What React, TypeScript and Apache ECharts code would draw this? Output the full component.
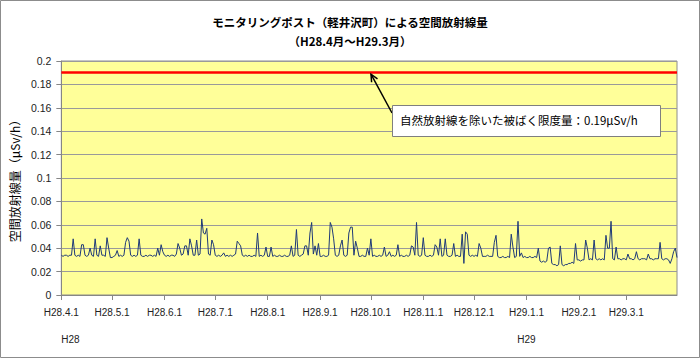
import React, { useEffect, useRef } from "react";
import * as echarts from "echarts";

const TITLE_LINE1 = "モニタリングポスト（軽井沢町）による空間放射線量";
const TITLE_LINE2 = "（H28.4月～H29.3月）";
const Y_NAME = "空間放射線量（μSv/h）";
const NOTE = "自然放射線を除いた被ばく限度量：0.19μSv/h";
const LIMIT = 0.19;
const START = { year: 2016, month: 4, day: 1 };
const DAYS = 365;

// daily air dose rate (μSv/h), 2016-04-01 .. 2017-03-31
const doseRate: number[] = [
  0.034,0.033,0.034,0.034,0.033,0.034,0.034,0.048,0.034,0.033,
  0.034,0.033,0.043,0.043,0.034,0.033,0.034,0.040,0.034,0.033,
  0.048,0.034,0.033,0.042,0.034,0.034,0.033,0.049,0.040,0.032,
  0.032,0.033,0.034,0.038,0.033,0.034,0.033,0.034,0.045,0.049,
  0.046,0.034,0.033,0.034,0.033,0.034,0.048,0.034,0.033,0.033,
  0.034,0.033,0.034,0.034,0.033,0.034,0.033,0.040,0.034,0.043,
  0.037,0.034,0.033,0.034,0.033,0.034,0.034,0.033,0.035,0.044,
  0.040,0.034,0.035,0.042,0.042,0.034,0.048,0.042,0.034,0.034,
  0.047,0.034,0.035,0.065,0.053,0.052,0.057,0.035,0.034,0.047,
  0.043,0.034,0.033,0.034,0.033,0.034,0.036,0.033,0.034,0.033,
  0.034,0.033,0.034,0.035,0.046,0.044,0.042,0.034,0.033,0.034,
  0.033,0.034,0.033,0.033,0.034,0.033,0.053,0.033,0.034,0.033,
  0.034,0.041,0.033,0.033,0.041,0.033,0.034,0.033,0.033,0.034,
  0.033,0.033,0.034,0.033,0.033,0.034,0.042,0.033,0.034,0.056,
  0.034,0.033,0.034,0.035,0.042,0.042,0.034,0.053,0.062,0.035,
  0.042,0.034,0.044,0.033,0.033,0.034,0.033,0.033,0.034,0.062,
  0.058,0.048,0.034,0.033,0.034,0.042,0.047,0.034,0.033,0.034,
  0.053,0.058,0.058,0.034,0.046,0.040,0.033,0.033,0.034,0.033,
  0.033,0.040,0.034,0.048,0.033,0.034,0.033,0.033,0.034,0.033,
  0.034,0.041,0.033,0.034,0.037,0.033,0.034,0.033,0.034,0.043,
  0.033,0.034,0.033,0.033,0.034,0.033,0.034,0.042,0.041,0.034,
  0.062,0.034,0.033,0.034,0.049,0.034,0.033,0.033,0.034,0.033,
  0.034,0.043,0.041,0.034,0.048,0.033,0.034,0.048,0.034,0.033,
  0.033,0.034,0.044,0.033,0.034,0.033,0.033,0.052,0.027,0.054,
  0.052,0.034,0.033,0.034,0.033,0.034,0.033,0.044,0.040,0.033,
  0.033,0.033,0.034,0.033,0.033,0.033,0.045,0.051,0.033,0.032,
  0.032,0.033,0.032,0.032,0.033,0.032,0.052,0.041,0.032,0.033,
  0.063,0.033,0.036,0.032,0.033,0.032,0.032,0.033,0.032,0.032,
  0.033,0.032,0.040,0.029,0.028,0.029,0.028,0.029,0.040,0.041,
  0.027,0.026,0.026,0.025,0.026,0.042,0.026,0.025,0.026,0.026,
  0.027,0.027,0.028,0.027,0.044,0.030,0.030,0.029,0.030,0.030,
  0.047,0.040,0.030,0.031,0.030,0.047,0.031,0.030,0.031,0.030,
  0.031,0.030,0.051,0.040,0.040,0.063,0.031,0.030,0.041,0.031,
  0.031,0.030,0.031,0.031,0.030,0.035,0.031,0.031,0.030,0.031,
  0.037,0.031,0.030,0.031,0.031,0.031,0.030,0.035,0.031,0.031,
  0.030,0.031,0.031,0.031,0.045,0.031,0.030,0.031,0.031,0.030,
  0.027,0.031,0.037,0.040,0.032,
];

// categories: dates written in Heisei notation, e.g. "H28.4.1"
const dateLabels: string[] = [];
for (let i = 0; i < DAYS; i++) {
  const d = new Date(Date.UTC(START.year, START.month - 1, START.day + i));
  dateLabels.push(`H${d.getUTCFullYear() - 1988}.${d.getUTCMonth() + 1}.${d.getUTCDate()}`);
}

const isMonthStart = (v: string) => v.split(".")[2] === "1";
const isYearStart = (idx: number, v: string) => idx === 0 || v.endsWith(".1.1");

export default function App() {
  const ref = useRef<HTMLDivElement>(null);
  useEffect(() => {
    if (!ref.current) return;
    const chart = echarts.init(ref.current, null, { renderer: "svg" });
    const font = "'Liberation Sans', 'Noto Sans CJK JP', sans-serif";
    const jp = "'Noto Sans CJK JP', sans-serif";
    chart.setOption({
      animation: false,
      backgroundColor: "#ffffff",
      title: {
        text: TITLE_LINE1,
        subtext: TITLE_LINE2,
        left: "center",
        top: 11,
        itemGap: 8,
        textStyle: { fontFamily: jp, fontSize: 11.5, fontWeight: "bold", color: "#000" },
        subtextStyle: { fontFamily: jp, fontSize: 11.5, fontWeight: "bold", color: "#000" },
      },
      grid: {
        left: 57,
        right: 23,
        top: 61,
        bottom: 63,
        show: true,
        backgroundColor: "#FFFF99",
        borderColor: "#8c8c8c",
        borderWidth: 1,
      },
      xAxis: [
        {
          type: "category",
          data: dateLabels,
          boundaryGap: false,
          axisLine: { lineStyle: { color: "#868686" } },
          axisTick: { show: true, length: 5, interval: (i: number, v: string) => isMonthStart(v), lineStyle: { color: "#868686" } },
          axisLabel: {
            interval: (i: number, v: string) => isMonthStart(v),
            margin: 12,
            fontFamily: font,
            fontSize: 10,
            color: "#222",
          },
          splitLine: { show: false },
        },
        {
          type: "category",
          data: dateLabels,
          boundaryGap: false,
          position: "bottom",
          offset: 28,
          axisLine: { show: false },
          axisTick: { show: false },
          axisLabel: {
            interval: (i: number, v: string) => isYearStart(i, v),
            formatter: (v: string) => v.split(".")[0],
            alignMinLabel: "left",
            margin: 11,
            fontFamily: font,
            fontSize: 10,
            color: "#222",
          },
          splitLine: { show: false },
        },
      ],
      yAxis: {
        type: "value",
        min: 0,
        max: 0.2,
        interval: 0.02,
        name: Y_NAME,
        nameLocation: "middle",
        nameGap: 40,
        nameRotate: 90,
        nameTextStyle: { fontFamily: jp, fontSize: 12, color: "#000" },
        axisLine: { show: true, lineStyle: { color: "#868686" } },
        axisTick: { show: true, length: 5, lineStyle: { color: "#868686" } },
        axisLabel: {
          margin: 10,
          fontFamily: font,
          fontSize: 10.5,
          color: "#222",
          formatter: (v: number) => String(+v.toFixed(2)),
        },
        splitLine: { show: true, lineStyle: { color: "#9a9a9a", width: 1 } },
      },
      series: [
        {
          type: "line",
          name: "空間放射線量",
          data: doseRate,
          xAxisIndex: 0,
          showSymbol: false,
          symbol: "none",
          lineStyle: { color: "#1F3A78", width: 1 },
          markLine: {
            silent: true,
            symbol: "none",
            label: { show: false },
            lineStyle: { color: "#FF0000", width: 2.5, type: "solid" },
            data: [{ yAxis: LIMIT }],
          },
        },
      ],
    });

    const tipY = chart.convertToPixel({ yAxisIndex: 0 }, LIMIT) as number;
    const tipX = 371;
    const tailX = 392;
    const tailY = 113;
    chart.setOption({
      graphic: [
        {
          type: "rect",
          shape: { x: 0.5, y: 0.5, width: 699, height: 357 },
          style: { fill: "none", stroke: "#8c8c8c", lineWidth: 1 },
          silent: true,
        },
        {
          type: "line",
          shape: { x1: tailX, y1: tailY, x2: tipX, y2: tipY + 1.5 },
          style: { stroke: "#000", lineWidth: 1.5 },
          z: 10,
        },
        {
          type: "polyline",
          shape: { points: [[tipX + 0.6, tipY + 9.5], [tipX, tipY + 1.5], [tipX + 6.5, tipY + 6.2]] },
          style: { stroke: "#000", lineWidth: 1.5, fill: "none" },
          z: 10,
        },
        {
          type: "rect",
          shape: { x: 392.5, y: 105.5, width: 268, height: 31 },
          style: { fill: "#ffffff", stroke: "#7f7f7f", lineWidth: 1 },
          z: 11,
        },
        {
          type: "text",
          x: 400,
          y: 120,
          style: { text: NOTE, fontFamily: jp, fontSize: 11.5, fill: "#000", textVerticalAlign: "middle" },
          z: 12,
        },
      ],
    });
    return () => chart.dispose();
  }, []);
  return <div ref={ref} style={{ position: "fixed", left: 0, top: 0, width: 700, height: 358 }} />;
}
